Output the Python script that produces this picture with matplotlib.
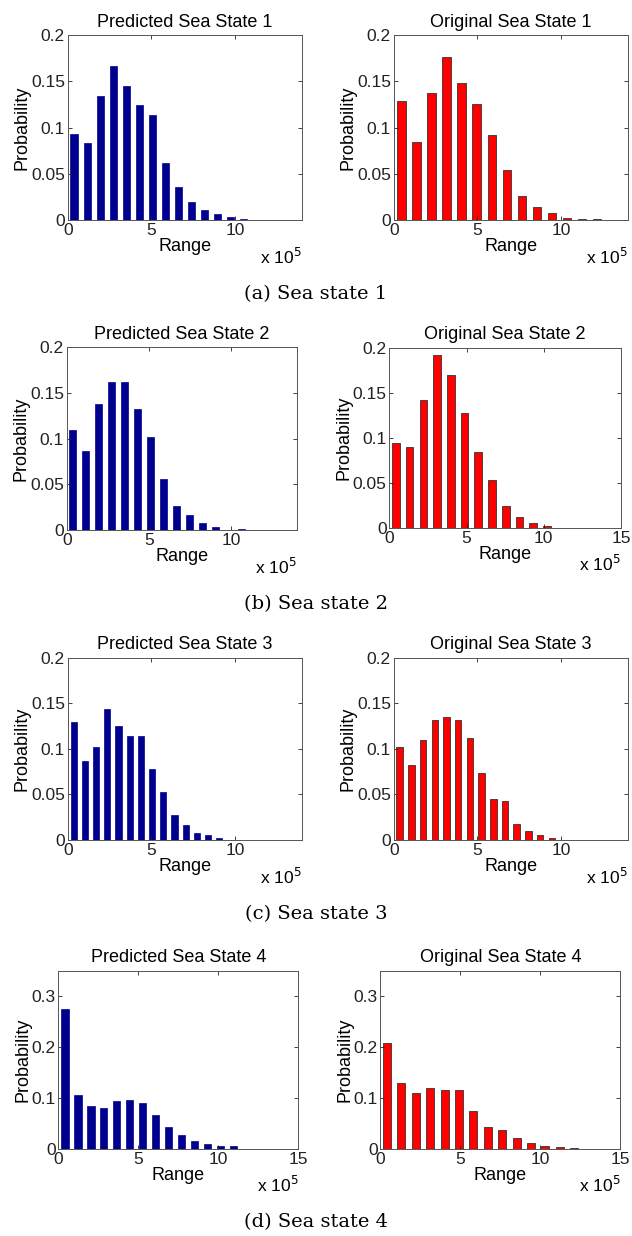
import numpy as np
import matplotlib.pyplot as plt

plt.rcParams['font.family'] = ['Liberation Sans', 'DejaVu Sans']

# bin centres (x 10^5) and probabilities
pred1_x = [0.38, 1.16, 1.94, 2.72, 3.50, 4.28, 5.06, 5.84, 6.62, 7.40, 8.18, 8.96, 9.74, 10.52]
pred1_p = [0.093, 0.083, 0.134, 0.167, 0.145, 0.124, 0.113, 0.062, 0.036, 0.020, 0.0105, 0.0068, 0.0036, 0.001]
orig1_x = [0.46, 1.36, 2.26, 3.16, 4.06, 4.96, 5.86, 6.76, 7.66, 8.56, 9.46, 10.36, 11.26, 12.16]
orig1_p = [0.129, 0.084, 0.137, 0.176, 0.148, 0.125, 0.0915, 0.054, 0.026, 0.0144, 0.0079, 0.0025, 0.001, 0.001]

pred2_x = [0.36, 1.15, 1.94, 2.73, 3.52, 4.31, 5.10, 5.89, 6.68, 7.47, 8.26, 9.05, 9.84, 10.63]
pred2_p = [0.109, 0.086, 0.138, 0.162, 0.162, 0.132, 0.102, 0.0555, 0.0266, 0.0168, 0.008, 0.0033, 0.0, 0.0011]
orig2_x = [0.42, 1.31, 2.20, 3.09, 3.98, 4.87, 5.76, 6.65, 7.54, 8.43, 9.32, 10.21, 11.10, 11.99]
orig2_p = [0.0948, 0.090, 0.142, 0.192, 0.170, 0.1277, 0.0845, 0.0535, 0.0247, 0.0122, 0.0055, 0.003, 0.0005, 0.0005]

pred3_x = [0.36, 1.03, 1.70, 2.37, 3.04, 3.71, 4.38, 5.05, 5.72, 6.39, 7.06, 7.73, 8.40, 9.07]
pred3_p = [0.130, 0.087, 0.102, 0.144, 0.125, 0.114, 0.114, 0.0775, 0.0523, 0.027, 0.0161, 0.0073, 0.0055, 0.0022]
orig3_x = [0.36, 1.06, 1.76, 2.46, 3.16, 3.86, 4.56, 5.26, 5.96, 6.66, 7.36, 8.06, 8.76, 9.46]
orig3_p = [0.102, 0.082, 0.110, 0.1316, 0.135, 0.1316, 0.112, 0.0738, 0.0446, 0.0424, 0.0172, 0.0102, 0.0058, 0.0026]

pred4_x = [0.42, 1.23, 2.04, 2.85, 3.66, 4.47, 5.28, 6.09, 6.90, 7.71, 8.52, 9.33, 10.14, 10.95]
pred4_p = [0.2746, 0.1073, 0.0846, 0.0807, 0.0943, 0.0969, 0.0904, 0.0664, 0.0442, 0.028, 0.0169, 0.0098, 0.0059, 0.0065]
orig4_x = [0.42, 1.32, 2.22, 3.12, 4.02, 4.92, 5.82, 6.72, 7.62, 8.52, 9.42, 10.32, 11.22, 12.12]
orig4_p = [0.208, 0.130, 0.111, 0.1197, 0.1158, 0.1158, 0.0755, 0.0442, 0.0377, 0.0215, 0.0117, 0.0072, 0.0039, 0.002]

captions = ['(a) Sea state 1', '(b) Sea state 2', '(c) Sea state 3', '(d) Sea state 4']

W, H = 632, 1236
fig = plt.figure(figsize=(W / 100, H / 100), dpi=100)


def box(l, t, r, b):
    # pixel box -> figure fraction
    return [l / W, 1 - b / H, (r - l) / W, (b - t) / H]


# axes box in pixels, xlim max, ylim max, data, title, style
panels = [
    (box(67.7, 35, 301.7, 220), 14, 0.2, pred1_x, pred1_p, 'Predicted Sea State 1', 'pred'),
    (box(393.7, 35, 627.7, 220), 14, 0.2, orig1_x, orig1_p, 'Original Sea State 1', 'orig'),
    (box(66.7, 347.3, 296.7, 530), 14, 0.2, pred2_x, pred2_p, 'Predicted Sea State 2', 'pred'),
    (box(389.3, 347.7, 621, 528.3), 15, 0.2, orig2_x, orig2_p, 'Original Sea State 2', 'orig'),
    (box(67.7, 657.7, 301.7, 840), 14, 0.2, pred3_x, pred3_p, 'Predicted Sea State 3', 'pred'),
    (box(393.7, 657.7, 627.7, 840), 14, 0.2, orig3_x, orig3_p, 'Original Sea State 3', 'orig'),
    (box(58.3, 970.7, 298.3, 1149.3), 15, 0.35, pred4_x, pred4_p, 'Predicted Sea State 4', 'pred'),
    (box(380.3, 970.7, 620.3, 1149.3), 15, 0.35, orig4_x, orig4_p, 'Original Sea State 4', 'orig'),
]

for pos, xmax, ymax, x, p, title, kind in panels:
    ax = fig.add_axes(pos)
    step = x[1] - x[0]
    if kind == 'pred':
        ax.bar(x, p, width=0.55 * step, color='#00008f', edgecolor='#00008f', linewidth=0.5)
    else:
        ax.bar(x, p, width=0.55 * step, color='#ff0000', edgecolor='#333333', linewidth=0.6)
    ax.set_xlim(0, xmax)
    ax.set_ylim(0, ymax)
    ax.set_xticks(np.arange(0, xmax + 0.1, 5))
    if ymax > 0.3:
        ax.set_yticks([0, 0.1, 0.2, 0.3])
        ax.set_yticklabels(['0', '0.1', '0.2', '0.3'])
    else:
        ax.set_yticks([0, 0.05, 0.1, 0.15, 0.2])
        ax.set_yticklabels(['0', '0.05', '0.1', '0.15', '0.2'])
    ax.tick_params(direction='in', length=3, width=0.6, top=True, right=True,
                   labelsize=12.5, colors='#222222', pad=2)
    for s in ax.spines.values():
        s.set_linewidth(0.7)
        s.set_color('#555555')
    ax.set_title(title, fontsize=13, pad=6)
    ax.set_xlabel('Range', fontsize=13, labelpad=0)
    ax.set_ylabel('Probability', fontsize=13, labelpad=0)
    ax.text(1.0, -0.2, r'x 10$^5$', transform=ax.transAxes, ha='right', va='center', fontsize=12.5)

cap_y = [294, 604, 914, 1222]
for c, y in zip(captions, cap_y):
    fig.text(0.5, 1 - y / H, c, ha='center', va='center', fontsize=14,
             family=['DejaVu Serif'])

fig.savefig('out.png', dpi=100)
